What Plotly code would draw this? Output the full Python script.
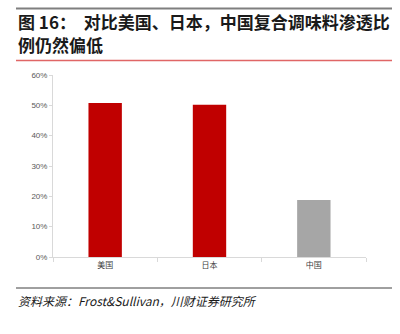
import plotly.graph_objects as go

categories = ["美国", "日本", "中国"]
values = [50.8, 50.2, 18.8]
colors = ["#C00000", "#C00000", "#A6A6A6"]
tick_vals = [0, 10, 20, 30, 40, 50, 60]
tick_text = ["0%", "10%", "20%", "30%", "40%", "50%", "60%"]

fig = go.Figure()
fig.add_trace(go.Bar(x=categories, y=values, marker=dict(color=colors, line=dict(width=0)),
                     width=0.32, hoverinfo="skip"))

W, H = 400, 334
L, R, T, B = 53, 34, 75, 77

def px(x):
    return (x - L) / (W - L - R)

def py(y):
    return (H - B - y) / (H - T - B)

fig.update_layout(
    width=W, height=H,
    margin=dict(l=L, r=R, t=T, b=B),
    paper_bgcolor="white", plot_bgcolor="white",
    showlegend=False,
    font=dict(family="Noto Sans CJK SC", color="#404040"),
    xaxis=dict(showline=True, linecolor="#D9D9D9", linewidth=1, ticks="outside",
               tickson="boundaries", ticklen=4, tickcolor="#D9D9D9",
               tickfont=dict(size=8, family="Noto Sans CJK SC", color="#404040"),
               showgrid=False, fixedrange=True),
    yaxis=dict(range=[0, 60], tickvals=tick_vals, ticktext=tick_text,
               showline=True, linecolor="#D9D9D9", linewidth=1, ticks="outside",
               ticklen=3, tickcolor="#D9D9D9", showgrid=False, zeroline=False,
               tickfont=dict(size=8, family="Liberation Sans", color="#595959"),
               fixedrange=True),
    shapes=[
        dict(type="line", xref="paper", yref="paper", x0=px(16), x1=px(392), y0=py(8.5), y1=py(8.5),
             line=dict(color="#7F7F7F", width=2)),
        dict(type="line", xref="paper", yref="paper", x0=px(16), x1=px(392), y0=py(60.5), y1=py(60.5),
             line=dict(color="#E06666", width=1.5)),
        dict(type="line", xref="paper", yref="paper", x0=px(16), x1=px(392), y0=py(288), y1=py(288),
             line=dict(color="#404040", width=1)),
    ],
    annotations=[
        dict(text="<b>图 16：  对比美国、日本，中国复合调味料渗透比</b>", xref="paper", yref="paper",
             x=px(16), y=py(22), xanchor="left", yanchor="middle", showarrow=False,
             font=dict(size=17, family="Noto Sans CJK SC", color="#1a1a1a")),
        dict(text="<b>例仍然偏低</b>", xref="paper", yref="paper",
             x=px(16), y=py(45), xanchor="left", yanchor="middle", showarrow=False,
             font=dict(size=17, family="Noto Sans CJK SC", color="#1a1a1a")),
        dict(text="<i>资料来源：Frost&amp;Sullivan，川财证券研究所</i>", xref="paper", yref="paper",
             x=px(16), y=py(300), xanchor="left", yanchor="middle", showarrow=False,
             font=dict(size=12, family="Noto Sans CJK SC", color="#1a1a1a")),
    ],
)

fig.write_html("out.html")
